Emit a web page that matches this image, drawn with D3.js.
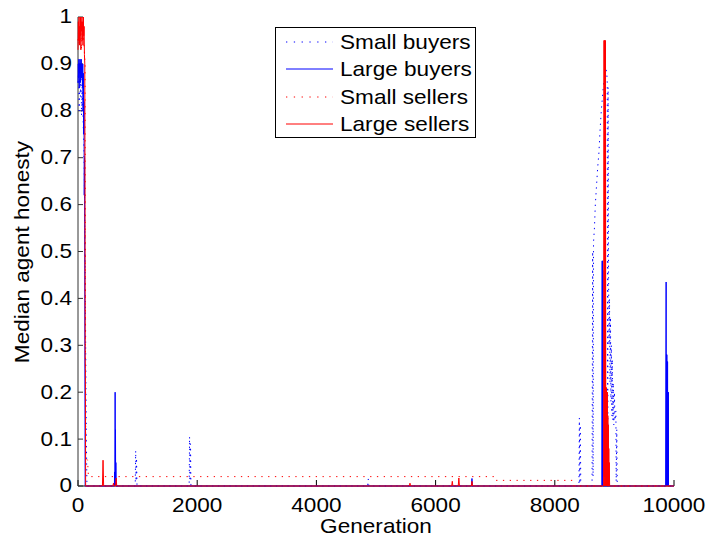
<!DOCTYPE html>
<html><head><meta charset="utf-8">
<script src="https://cdn.jsdelivr.net/npm/d3@7"></script>
<style>
body{margin:0;background:#fff}
svg{display:block}
text{font-family:"Liberation Sans",Arial,Helvetica,sans-serif;fill:#000}
</style>
</head><body><svg id="c" width="707" height="542"></svg>
<script>
// ---------- data ----------
const xTicks = [0, 2000, 4000, 6000, 8000, 10000];
const xTickLabels = ["0", "2000", "4000", "6000", "8000", "10000"];
const yTicks = [0, 0.1, 0.2, 0.3, 0.4, 0.5, 0.6, 0.7, 0.8, 0.9, 1];
const yTickLabels = ["0", "0.1", "0.2", "0.3", "0.4", "0.5", "0.6", "0.7", "0.8", "0.9", "1"];
const seriesNames = ["Small buyers", "Large buyers", "Small sellers", "Large sellers"];

const smallBuyersGen = [0,10,20,30,40,50,60,70,80,90,100,110,118,126,134,142,150,
  960,968,975,982,990, 1865,1872,1880,1888,1895, 4860,4870,4880,
  8405,8412,8420,8428,8436,
  8625,8635,8642,8650,8665,8680,8700,8720,8740,8760,8780,8800,8820,8840,8858,8872,8880,8888,8894,
  8902,8910,8918,8926,8934,8942,8950,8958,8966,8974,8982,8990,9000,9010,9025,9030,9040,9048, 10000];
const smallBuyersVal = [0.86,0.88,0.80,0.87,0.83,0.88,0.79,0.85,0.81,0.76,0.72,0.62,0.50,0.35,0.20,0.08,0,
  0,0.075,0.01,0.06,0, 0,0.105,0.01,0.09,0, 0,0.015,0,
  0,0.145,0.005,0.13,0,
  0,0.50,0.02,0.52,0.55,0.60,0.64,0.68,0.71,0.76,0.80,0.83,0.86,0.87,0.89,0.88,0.86,0.02,0.85,
  0.45,0.30,0.40,0.22,0.36,0.18,0.30,0.15,0.27,0.14,0.22,0.13,0.20,0.14,0.16,0.01,0.12,0, 0];

const largeBuyersGen = [0,5,10,15,20,25,30,35,40,45,50,55,60,65,70,75,80,85,90,95,100,105,110,115,120,
  610,615,620,623,626,629,632,635,640, 6600,6610,6620,
  8790,8795,8798,8801,8804,8807,8810,
  9860,9868,9871,9874,9877,9880,9883,9886,9889,9892,9895,9898,9901,9904,9907, 10000];
const largeBuyersVal = [0.86,0.90,0.87,0.91,0.85,0.90,0.88,0.91,0.86,0.90,0.89,0.91,0.87,0.90,0.88,0.85,0.90,0.80,0.88,0.75,0.82,0.62,0.70,0.30,0,
  0,0.03,0,0.20,0.02,0.12,0,0.05,0, 0,0.016,0,
  0,0.48,0,0.48,0.02,0.46,0,
  0,0.435,0,0.28,0,0.28,0,0.265,0,0.265,0,0.20,0,0.20,0, 0];

const smallSellersGen = [0,10,20,30,40,50,60,70,80,90,100,110,118,125,130,160,175,7000,7010,8300,8320,10000];
const smallSellersVal = [0.95,0.97,0.94,0.98,0.95,0.97,0.93,0.98,0.95,0.96,0.94,0.92,0.90,0.30,0.06,0.055,0.02,0.02,0.012,0.012,0,0];

const largeSellersGen = [0,6,12,18,24,30,36,42,48,54,60,66,72,78,84,90,96,102,108,114,118,121,124,128,
  410,420,430, 585,595,605, 630,640,650, 5560,5570,5580, 6270,6280,6290, 6380,6390,6400, 6600,6610,6620,
  8820,8826,8830,8834,8838,8842,8846,8850,8856,8866,8870,8874,8878,8882,8886,8890,8894,8898,8902,8906,8910,8914,8920,
  10000];
const largeSellersVal = [0.93,0.99,0.95,1.0,0.94,0.98,0.96,1.0,0.93,0.99,0.97,1.0,0.95,0.99,0.94,1.0,0.96,0.98,0.92,0.90,0.60,0.27,0.25,0,
  0,0.055,0, 0,0.006,0, 0,0.017,0, 0,0.006,0, 0,0.01,0, 0,0.017,0, 0,0.01,0,
  0,0.95,0,0.95,0.02,0.93,0,0.95,0,0.21,0,0.20,0,0.20,0,0.15,0,0.13,0,0.08,0,0.05,0,
  0];

// ---------- chart ----------
const svg = d3.select("#c");
svg.append("rect").attr("width",707).attr("height",542).attr("fill","#fff");
const x = d3.scaleLinear().domain([0,10000]).range([78,674]);
const y = d3.scaleLinear().domain([0,1]).range([486,17]);
const SX = 1.13;

const gx = svg.append("g").attr("transform","translate(0,486)")
  .call(d3.axisBottom(x).tickValues(xTicks).tickFormat((d,i)=>xTickLabels[i])
        .tickSizeInner(-6).tickSizeOuter(0).tickPadding(12).offset(0));
const gy = svg.append("g").attr("transform","translate(78,0)")
  .call(d3.axisLeft(y).tickValues(yTicks).tickFormat((d,i)=>yTickLabels[i])
        .tickSizeInner(-5).tickSizeOuter(0).tickPadding(5.3).offset(0));
[gx, gy].forEach(g => {
  g.attr("font-family", null).attr("font-size", null);
  g.selectAll("text").style("font-size","20px").attr("transform",`scale(${SX},1)`);
});
gx.selectAll("text").attr("x", 0).attr("dy","0.71em");
gy.select(".domain").attr("stroke","#333");
gy.selectAll(".tick line").attr("stroke","#333");

const line = d3.line().x(d=>x(d[0])).y(d=>y(d[1]));
const zip = (a,b) => a.map((v,i)=>[v,b[i]]);
const series = [
  {gen: smallBuyersGen, val: smallBuyersVal, color: "#0000ff", dash: "1.3,4.5"},
  {gen: largeBuyersGen, val: largeBuyersVal, color: "#0000ff", dash: null},
  {gen: smallSellersGen, val: smallSellersVal, color: "#ff0000", dash: "1.3,5.5"},
  {gen: largeSellersGen, val: largeSellersVal, color: "#ff0000", dash: null}
];
series.forEach(s => {
  svg.append("path").datum(zip(s.gen, s.val))
    .attr("d", line).attr("fill","none").attr("stroke", s.color)
    .attr("stroke-width", 1).attr("stroke-dasharray", s.dash);
});

// legend
const lg = svg.append("g");
lg.append("rect").attr("x",275.5).attr("y",27.5).attr("width",200).attr("height",110)
  .attr("fill","#fff").attr("stroke","#000").attr("stroke-width",1);
const rowY = [42, 69, 97, 124];
seriesNames.forEach((n,i) => {
  const s = series[i];
  lg.append("line").attr("x1",286).attr("x2",333).attr("y1",rowY[i]).attr("y2",rowY[i])
    .attr("stroke", s.color).attr("stroke-width",1)
    .attr("stroke-dasharray", s.dash ? "1.3,6.5" : null);
  lg.append("text").attr("transform",`translate(340,${rowY[i]}) scale(${SX},1)`)
    .attr("dy","0.35em").style("font-size","20px").text(n);
});

// axis titles
svg.append("text").attr("transform",`translate(376,533) scale(${SX},1)`)
  .attr("text-anchor","middle").style("font-size","20px").text("Generation");
svg.append("text").attr("transform",`translate(29,252) rotate(-90) scale(${SX},1)`)
  .attr("text-anchor","middle").style("font-size","20px").text("Median agent honesty");
</script></body></html>
